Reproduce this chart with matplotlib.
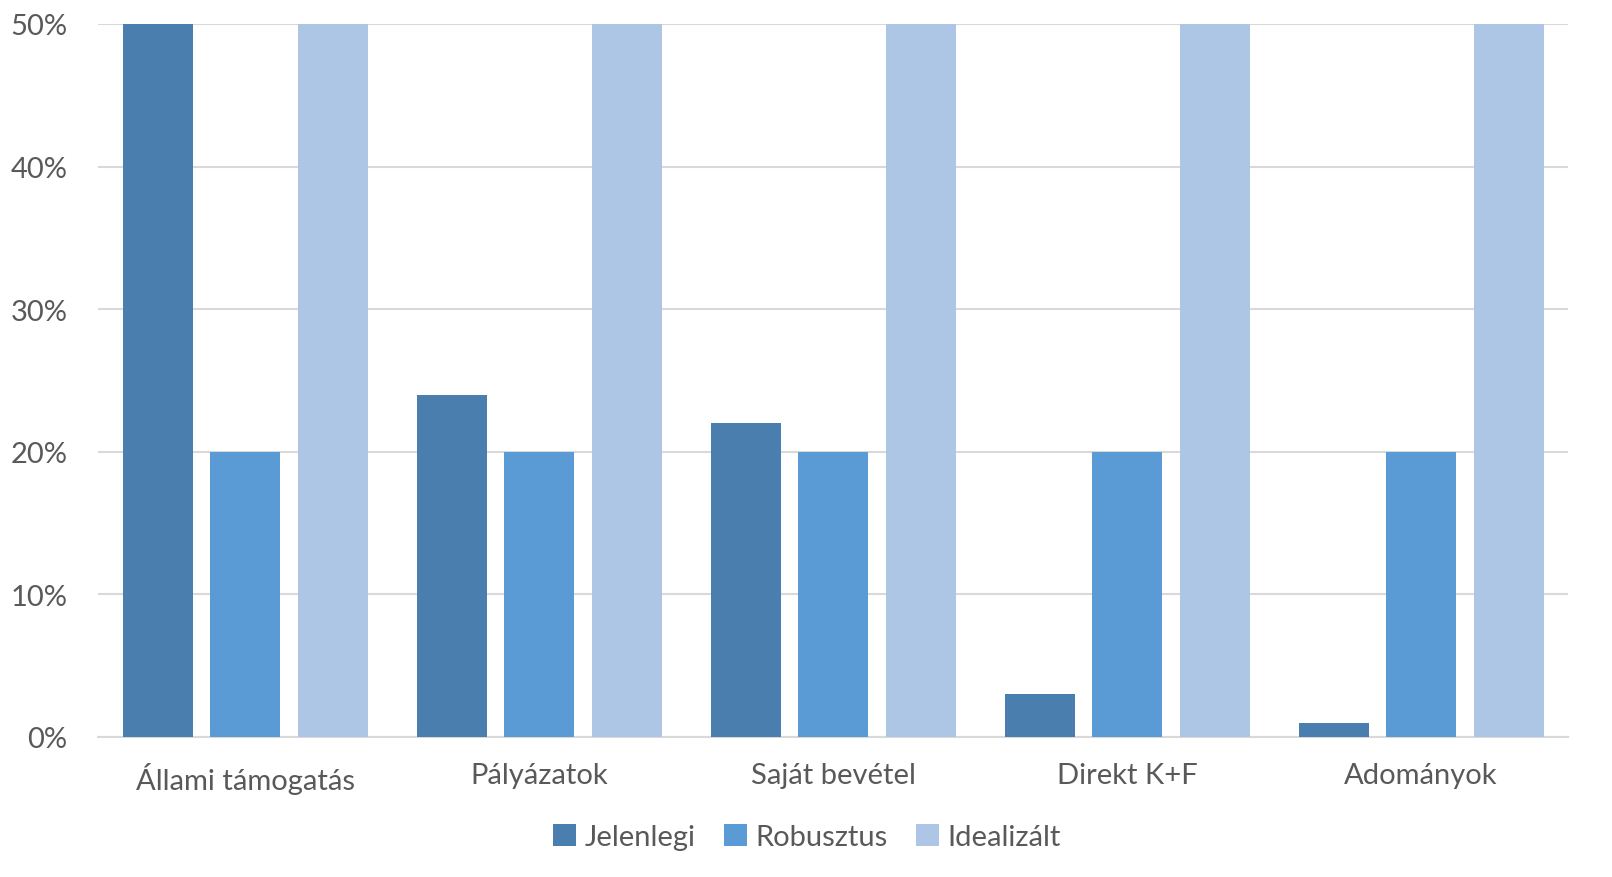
import matplotlib
matplotlib.use("Agg")
import matplotlib.pyplot as plt
import numpy as np
from matplotlib.ticker import FuncFormatter

categories = ["Állami támogatás", "Pályázatok", "Saját bevétel", "Direkt K+F", "Adományok"]
series_names = ["Jelenlegi", "Robusztus", "Idealizált"]
jelenlegi = [50, 24, 22, 3, 1]
robusztus = [20, 20, 20, 20, 20]
idealizalt = [50, 50, 50, 50, 50]
yticks = [0, 10, 20, 30, 40, 50]
colors = ["#4A7EAF", "#5B9BD5", "#ADC6E5"]

plt.rcParams['font.family'] = ['Lato', 'DejaVu Sans']
TXT = "#595959"

fig = plt.figure(figsize=(16.12, 8.78), dpi=100)
ax = fig.add_axes([98/1612, 1 - 738/878, (1568-98)/1612, (738-25)/878])

x = np.arange(len(categories))
w = 70/294
step = 87.5/294
for i, (vals, name) in enumerate(zip([jelenlegi, robusztus, idealizalt], series_names)):
    ax.bar(x + (i-1)*step, vals, width=w, color=colors[i], label=name, zorder=3)

ax.set_xlim(-0.5, len(categories)-0.5)
ax.set_ylim(0, 50)
ax.set_yticks(yticks)
ax.yaxis.set_major_formatter(FuncFormatter(lambda v, p: f"{int(v)}%"))
ax.grid(axis='y', color="#D9D9D9", linewidth=1.5, zorder=0)
ax.set_xticks(x)
ax.set_xticklabels(categories)
for s in ['top', 'right', 'left']:
    ax.spines[s].set_visible(False)
ax.spines['bottom'].set_color("#D9D9D9")
ax.spines['bottom'].set_linewidth(1.5)
ax.tick_params(axis='both', length=0, labelsize=21, colors=TXT)
ax.tick_params(axis='x', pad=18)
ax.tick_params(axis='y', pad=22)

leg = fig.legend(loc='center', bbox_to_anchor=(807/1612, 1 - 838/878), ncol=3, frameon=False,
                 fontsize=21, handlelength=0.8, handleheight=0.8, handletextpad=0.3, columnspacing=0.95)
for t in leg.get_texts():
    t.set_color(TXT)

fig.savefig("out.png", dpi=100)
